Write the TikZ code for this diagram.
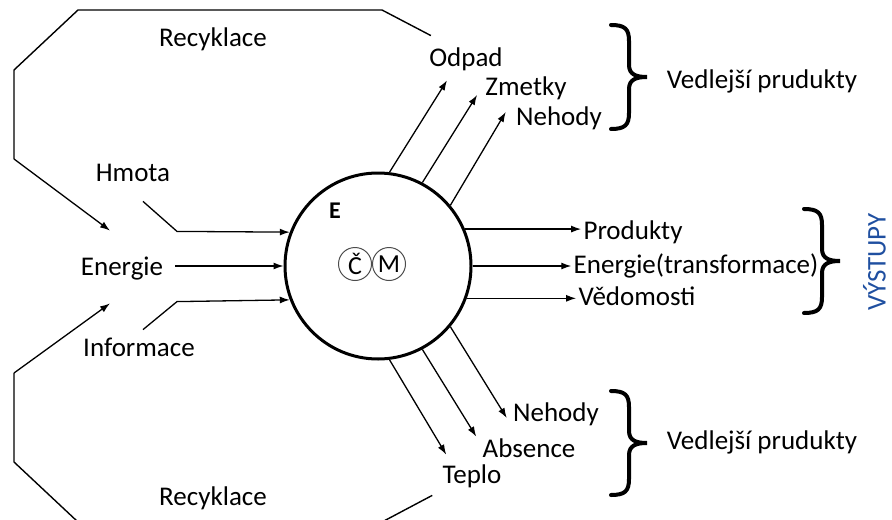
\documentclass[tikz,border=0pt]{standalone}
\usepackage{fontspec}
\setmainfont{Carlito}
\usetikzlibrary{arrows.meta}
\definecolor{vystblue}{HTML}{1F4FA0}

\tikzset{curly/.pic={
  \draw[line width=2pt, line cap=round] (-9pt,26pt) .. controls (-2pt,26pt) and (0pt,24pt) .. (0pt,18pt)
    -- (0pt,6pt) .. controls (0pt,1pt) and (4pt,0pt) .. (9pt,0pt)
    .. controls (4pt,0pt) and (0pt,-1pt) .. (0pt,-6pt) -- (0pt,-18pt)
    .. controls (0pt,-24pt) and (-2pt,-26pt) .. (-9pt,-26pt);}}

\begin{document}
\begin{tikzpicture}[x=0.5pt,y=-0.5pt,
  lbl/.style={font=\fontsize{13.5}{15}\selectfont, inner sep=1pt, text height=9.3pt, text depth=2.7pt},
  arr/.style={-{Latex[length=5pt,width=3.5pt]}, line width=0.65pt},
  loopline/.style={line width=0.7pt},
  sysnode/.style={circle, draw, line width=1.5pt, minimum size=93pt, inner sep=0pt},
  cmnode/.style={circle, draw=black!70, line width=0.5pt, minimum size=16.5pt, inner sep=0pt, font=\fontsize{13}{15}\selectfont}]
  \useasboundingbox (0,0) rectangle (892,519);
  \clip (0,0) rectangle (892,519);

  % the system
  \node[sysnode] (sys) at (378,266) {};
  \node[font=\bfseries\fontsize{12}{14}\selectfont] (e) at (335,211) {E};
  \node[cmnode] (c) at (355,264) {Č};
  \node[cmnode] (m) at (389,264) {M};

  % inputs
  \node[lbl] (hmota) at (133,175) {Hmota};
  \node[lbl] (energie) at (122,269) {Energie};
  \node[lbl] (info) at (139,350) {Informace};
  \draw[arr] ([xshift=5pt,yshift=-6pt]hmota.south) -- ++(17pt,-15pt) -- (sys.159);
  \draw[arr] ([xshift=5pt]energie.east |- sys.west) -- (sys.west);
  \draw[arr] ([xshift=2pt,yshift=3pt]info.north) -- ++(17pt,14pt) -- (sys.201);

  % outputs up
  \node[lbl] (odpad) at (466,60) {Odpad};
  \node[lbl] (zmetky) at (526,89) {Zmetky};
  \node[lbl] (nehodyup) at (559,119) {Nehody};
  \draw[arr] (sys.83) -- ([xshift=-9.5pt,yshift=-3pt]odpad.south);
  \draw[arr] (sys.62) -- ([xshift=-3pt,yshift=-3pt]zmetky.west);
  \draw[arr] (sys.40) -- ([xshift=-4pt,yshift=3.5pt]nehodyup.west);
  \pic (braceup) at (629,77) {curly};
  \node[lbl] (vedlup) at (762,82) {Vedlejší prudukty};

  % main outputs
  \node[lbl] (prod) at (633,233) {Produkty};
  \node[lbl] (entr) at (696,267) {Energie(transformace)};
  \node[lbl] (ved) at (637,299) {Vědomosti};
  \draw[arr] (sys.23) -- (sys.23 -| prod.west);
  \draw[arr] (sys.0) -- (sys.0 -| entr.west);
  \draw[arr] (sys.-20) -- (sys.-20 -| ved.west);
  \pic (braceout) at (822,261) {curly};
  \node[lbl, rotate=90, text=vystblue] (vystupy) at (879,262) {VÝSTUPY};

  % outputs down
  \node[lbl] (nehodydn) at (556,415) {Nehody};
  \node[lbl] (absence) at (529,451) {Absence};
  \node[lbl] (teplo) at (472,477) {Teplo};
  \draw[arr] (sys.-40) -- ([xshift=-2pt,yshift=-1.5pt]nehodydn.west);
  \draw[arr] (sys.-62) -- ([xshift=-2pt]absence.north west);
  \draw[arr] (sys.-83) -- ([xshift=3pt,yshift=4pt]teplo.north west);
  \pic (bracedn) at (629,443) {curly};
  \node[lbl] (vedldn) at (762,443) {Vedlejší prudukty};

  % recycling loops
  \node[lbl] (recup) at (213,40) {Recyklace};
  \node[lbl] (recdn) at (213,499) {Recyklace};
  \draw[loopline] ([xshift=2pt,yshift=5pt]odpad.north west) -- (382,10) -- (78,10) -- (14,70) -- (14,159)
    edge[arr] ([xshift=-6pt,yshift=12pt]energie.north);
  \draw[loopline] ([xshift=-4pt,yshift=-2pt]teplo.south west) -- (382,522) -- (78,522) -- (14,462) -- (14,373)
    edge[arr] ([xshift=-6pt,yshift=-10pt]energie.south);
\end{tikzpicture}
\end{document}
